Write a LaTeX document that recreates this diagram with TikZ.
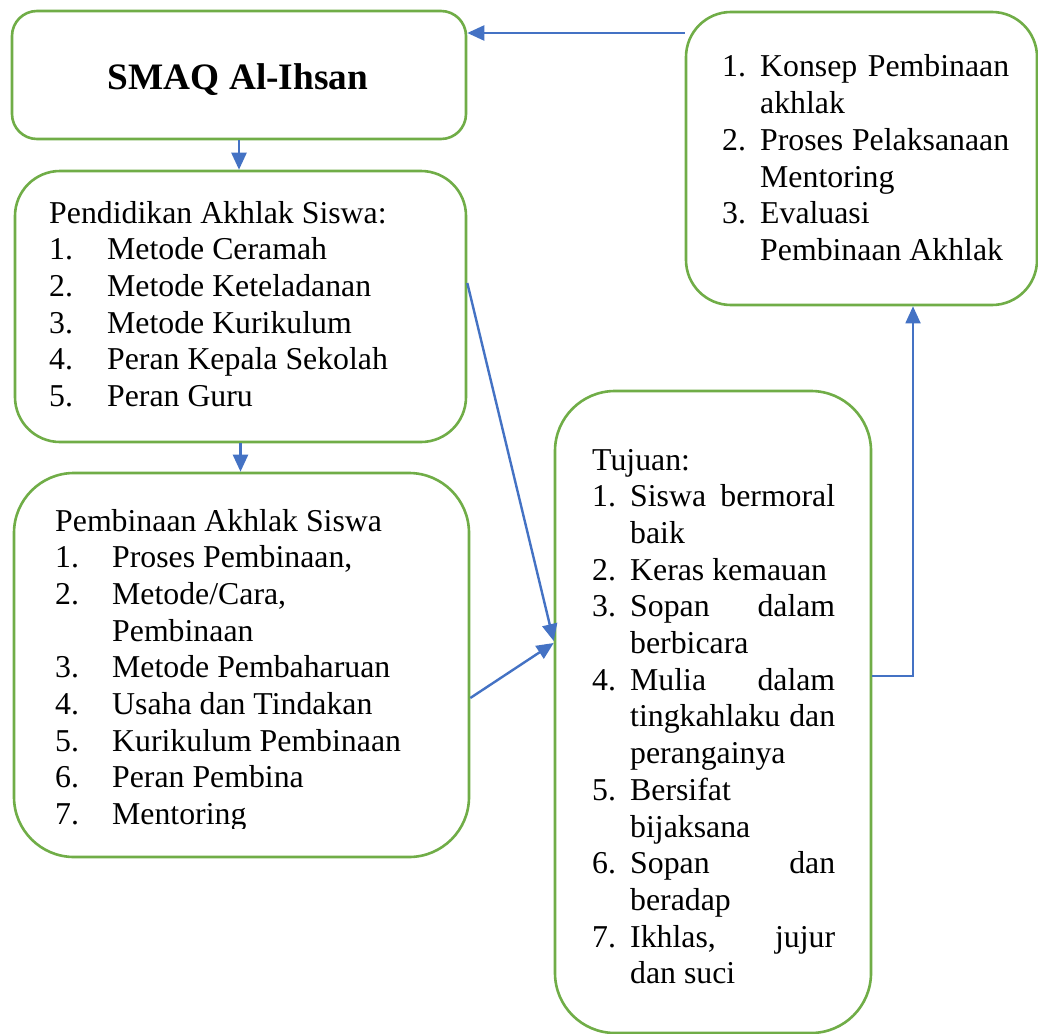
\documentclass[tikz,border=0pt]{standalone}
\usepackage{fontspec}
\setmainfont{Liberation Serif}
\usetikzlibrary{arrows.meta}
\definecolor{boxgreen}{HTML}{70AD47}
\definecolor{arrblue}{HTML}{4472C4}
\newlength\numcolw
\newcommand\numcol[1]{\makebox[\numcolw][l]{#1}}
\newcommand\justline[2]{\makebox[#1][s]{#2}}
\begin{document}
\begin{tikzpicture}[x=1pt,y=-1pt,
  box/.style={draw=boxgreen, line width=2.6pt, rectangle, inner sep=0pt},
  arr/.style={draw=arrblue, line width=2.4pt, -{Triangle[length=17pt,width=15pt]}},
  body/.style={anchor=base west, inner sep=0pt, font={\fontsize{31.8pt}{36.7pt}\selectfont}}]
\useasboundingbox (0,0) rectangle (1038,1033);
\fill[white] (0,0) rectangle (1038,1033);
\clip (0,0) rectangle (1038,1033);

% boxes
\node[box, minimum width=454pt, minimum height=128pt, rounded corners=25pt] (box1) at (239,75) {};
\node[box, minimum width=451pt, minimum height=271pt, rounded corners=45pt] (box2) at (240.5,306.5) {};
\node[box, minimum width=455pt, minimum height=384pt, rounded corners=60pt] (box3) at (241.5,665) {};
\node[box, minimum width=316pt, minimum height=642pt, rounded corners=60pt] (box4) at (713,712) {};
\node[box, minimum width=351pt, minimum height=293pt, rounded corners=45pt] (box5) at (861.5,158.5) {};

% texts
\node[anchor=base, inner sep=0pt, font={\fontsize{37.3pt}{44pt}\selectfont\bfseries}] (title) at (238,89) {SMAQ Al-Ihsan};

\node[body] (t2) at (49,223) {\setlength\numcolw{58pt}\begin{tabular}[t]{@{}l@{}l@{}}
\multicolumn{2}{@{}l@{}}{Pendidikan Akhlak Siswa:}\\
\numcol{1.}&Metode Ceramah\\
\numcol{2.}&Metode Keteladanan\\
\numcol{3.}&Metode Kurikulum\\
\numcol{4.}&Peran Kepala Sekolah\\
\numcol{5.}&Peran Guru
\end{tabular}};

\begin{scope}
\clip (0,0) rectangle (1038,828);
\node[body] (t3) at (55,531) {\setlength\numcolw{57pt}\begin{tabular}[t]{@{}l@{}l@{}}
\multicolumn{2}{@{}l@{}}{Pembinaan Akhlak Siswa}\\
\numcol{1.}&Proses Pembinaan,\\
\numcol{2.}&Metode/Cara,\\
\numcol{}&Pembinaan\\
\numcol{3.}&Metode Pembaharuan\\
\numcol{4.}&Usaha dan Tindakan\\
\numcol{5.}&Kurikulum Pembinaan\\
\numcol{6.}&Peran Pembina\\
\numcol{7.}&Mentoring
\end{tabular}};
\end{scope}

\node[body] (t4) at (592,470) {\setlength\numcolw{38pt}\begin{tabular}[t]{@{}l@{}l@{}}
\multicolumn{2}{@{}l@{}}{Tujuan:}\\
\numcol{1.}&\justline{205pt}{Siswa bermoral}\\
\numcol{}&baik\\
\numcol{2.}&Keras kemauan\\
\numcol{3.}&\justline{205pt}{Sopan dalam}\\
\numcol{}&berbicara\\
\numcol{4.}&\justline{205pt}{Mulia dalam}\\
\numcol{}&\justline{205pt}{tingkahlaku dan}\\
\numcol{}&perangainya\\
\numcol{5.}&Bersifat\\
\numcol{}&bijaksana\\
\numcol{6.}&\justline{205pt}{Sopan dan}\\
\numcol{}&beradap\\
\numcol{7.}&\justline{205pt}{Ikhlas, jujur}\\
\numcol{}&dan suci
\end{tabular}};

\node[body] (t5) at (722,77) {\setlength\numcolw{38pt}\begin{tabular}[t]{@{}l@{}l@{}}
\numcol{1.}&\justline{249pt}{Konsep Pembinaan}\\
\numcol{}&akhlak\\
\numcol{2.}&\justline{249pt}{Proses Pelaksanaan}\\
\numcol{}&Mentoring\\
\numcol{3.}&Evaluasi\\
\numcol{}&Pembinaan Akhlak
\end{tabular}};

% connectors
\draw[arr] (box5.west |- 0,33) -- (box1.east |- 0,33);
\draw[arr] (box1.south) -- (box1.south |- box2.north);
\draw[arr] (box2.south) -- (box2.south |- box3.north);
\draw[arr] (box2.east |- 0,283) -- (box4.west |- 0,641);
\draw[arr] (box3.east |- 0,698) -- (box4.west |- 0,643);
\draw[arr, line width=1.8pt] (box4.east |- 0,676) -| (913,0 |- box5.south);
\end{tikzpicture}
\end{document}
